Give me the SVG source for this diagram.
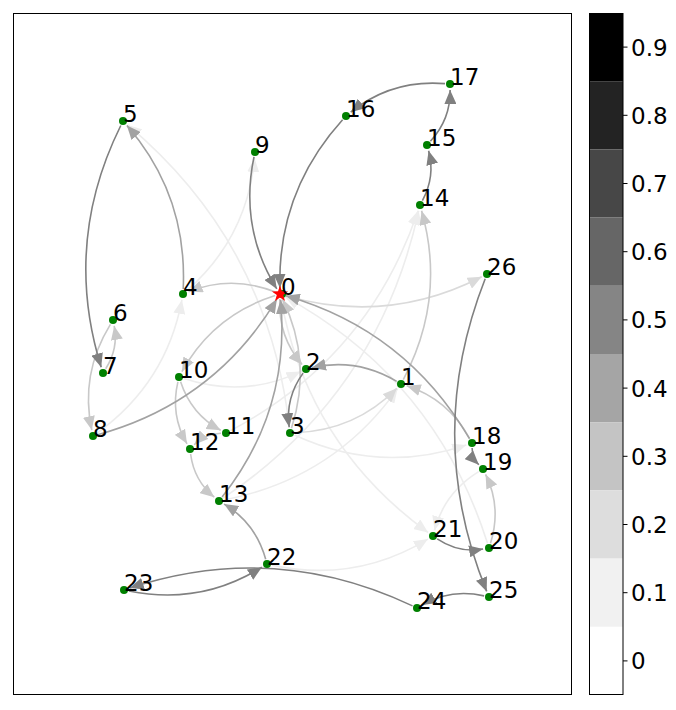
<svg xmlns="http://www.w3.org/2000/svg" width="676" height="710" viewBox="0 0 676 710">
<style>
.e{fill:none;stroke-width:1.6}
.d{stroke:#808080;marker-end:url(#md)}
.m{stroke:#a2a2a2;marker-end:url(#mm)}
.l{stroke:#c8c8c8;marker-end:url(#ml)}
.k{stroke:#dadada;marker-end:url(#mk)}
.f{stroke:#ededed;marker-end:url(#mf)}
.n{fill:#008000}
.t{font-family:"DejaVu Sans",sans-serif;font-size:23px;fill:#000}
.cb{font-family:"DejaVu Sans",sans-serif;font-size:23px;fill:#000}
</style>
<defs>
<marker id="md" viewBox="0 0 14 12" markerWidth="14" markerHeight="12" refX="14" refY="6" orient="auto" markerUnits="userSpaceOnUse"><path d="M0,0 L14,6 L0,12 z" fill="#808080"/></marker>
<marker id="mm" viewBox="0 0 14 12" markerWidth="14" markerHeight="12" refX="14" refY="6" orient="auto" markerUnits="userSpaceOnUse"><path d="M0,0 L14,6 L0,12 z" fill="#a2a2a2"/></marker>
<marker id="ml" viewBox="0 0 14 12" markerWidth="14" markerHeight="12" refX="14" refY="6" orient="auto" markerUnits="userSpaceOnUse"><path d="M0,0 L14,6 L0,12 z" fill="#c8c8c8"/></marker>
<marker id="mk" viewBox="0 0 14 12" markerWidth="14" markerHeight="12" refX="14" refY="6" orient="auto" markerUnits="userSpaceOnUse"><path d="M0,0 L14,6 L0,12 z" fill="#dadada"/></marker>
<marker id="mf" viewBox="0 0 14 12" markerWidth="14" markerHeight="12" refX="14" refY="6" orient="auto" markerUnits="userSpaceOnUse"><path d="M0,0 L14,6 L0,12 z" fill="#ededed"/></marker>
</defs>
<rect x="0" y="0" width="676" height="710" fill="#ffffff"/>
<rect x="13.5" y="13.5" width="558" height="681" fill="none" stroke="#000" stroke-width="1"/>
<g id="connectors">
<path class="e f" d="M223.1,498.2 Q378.7,393.2 418.7,210.9"/>
<path class="e f" d="M230.4,430.7 Q368.6,357.8 418.1,210.7"/>
<path class="e f" d="M97.1,433.1 Q166.4,383 181.9,299.9"/>
<path class="e f" d="M271.9,565.1 Q355.6,583.2 427.9,539.1"/>
<path class="e f" d="M223.9,500 Q333.4,478.9 397.5,388.9"/>
<path class="e f" d="M289.4,428 Q268.9,243.6 127.6,124.9"/>
<path class="e f" d="M186.8,290.7 Q247.4,237.4 254.5,158"/>
<path class="e f" d="M478.7,471.6 Q444.6,492.5 434.5,530.2"/>
<path class="e f" d="M280.9,298.9 Q308.1,445.6 428.1,532.5"/>
<path class="e f" d="M487.5,543.2 Q435.3,379.2 285.3,296.9"/>
<path class="e f" d="M294.5,435.1 Q379,474.4 466.3,444.9"/>
<path class="e f" d="M183.8,378.6 Q244.1,398.4 300.6,371.6"/>
<path class="e k" d="M284.8,295.4 Q387.5,325.4 481.7,276.8"/>
<path class="e k" d="M295,432.8 Q355.3,430.7 396.8,388.3"/>
<path class="e l" d="M403.3,379.6 Q446.3,298.3 421.6,210.8"/>
<path class="e l" d="M275.2,295.5 Q212.9,315.3 181.9,371.7"/>
<path class="e l" d="M275.4,292.1 Q231.5,274.6 188.6,291.8"/>
<path class="e l" d="M279.8,299 Q278,336.7 302.1,364.5"/>
<path class="e l" d="M291.5,428.2 Q312.8,361.5 282.6,299.4"/>
<path class="e l" d="M190.6,454 Q194.1,480.8 214.3,497.2"/>
<path class="e l" d="M177.9,381.9 Q170.1,415.2 187,443.8"/>
<path class="e l" d="M180.6,381.7 Q191.3,414.4 220.7,430.2"/>
<path class="e l" d="M221,433.2 Q204.8,433.8 194.2,444.7"/>
<path class="e l" d="M110.4,324.3 Q79.8,374 91.8,430.1"/>
<path class="e l" d="M105.7,368.8 Q118.6,348.5 114.2,325.9"/>
<path class="e l" d="M490.5,543.2 Q501.8,507.3 485.6,474.4"/>
<path class="e l" d="M469.6,438.6 Q448.3,399.3 406.7,385.8"/>
<path class="e m" d="M183.2,289 Q187.6,195.5 126.9,125.5"/>
<path class="e m" d="M97.8,434.7 Q214.9,402.4 276.9,299.1"/>
<path class="e m" d="M222.1,497.1 Q290.9,409.7 280.6,300"/>
<path class="e m" d="M265.7,559.2 Q255.6,522.9 224.1,504.1"/>
<path class="e m" d="M469.5,438.7 Q405.8,330.1 285.8,295.7"/>
<path class="e m" d="M396.7,381.4 Q356.5,357.5 311.9,367.7"/>
<path class="e d" d="M254,156.9 Q239.1,228 276.8,288.9"/>
<path class="e d" d="M342.6,119.7 Q277.4,191.8 279.9,288"/>
<path class="e d" d="M445,83.6 Q391.6,79.2 350.7,112.2"/>
<path class="e d" d="M430.4,141.3 Q450.7,119.1 450.1,90"/>
<path class="e d" d="M422.4,200.6 Q435.5,176.4 428.6,150.8"/>
<path class="e d" d="M120.8,125.5 Q62.6,243 101.2,367.3"/>
<path class="e d" d="M485.2,278.7 Q423.4,435.9 486.7,591.4"/>
<path class="e d" d="M484.1,595.9 Q450.8,588.1 422.2,605"/>
<path class="e d" d="M412.5,605.9 Q274.1,540.4 129.7,588.1"/>
<path class="e d" d="M128.9,591 Q200.7,605.6 261.9,567.2"/>
<path class="e d" d="M437.2,538.8 Q458.6,553.2 483.1,549"/>
<path class="e d" d="M303.1,373.1 Q285.2,397.8 289.2,427.1"/>
<path class="e d" d="M472.1,448 Q472.3,458.2 478.8,464.7"/>
</g>
<g id="node0"><circle class="n" cx="282" cy="294" r="4"/><polygon fill="#ff0000" points="280,285.5 282,291.2 288.1,291.4 283.2,295.1 285,301 280,297.5 275,301 276.8,295.1 271.9,291.4 278,291.2"/><text class="t" x="281" y="295">0</text></g>
<g id="node1"><circle class="n" cx="401" cy="384" r="4"/><text class="t" x="401" y="385">1</text></g>
<g id="node2"><circle class="n" cx="306" cy="369" r="4"/><text class="t" x="306" y="370">2</text></g>
<g id="node3"><circle class="n" cx="290" cy="433" r="4"/><text class="t" x="290" y="434">3</text></g>
<g id="node4"><circle class="n" cx="183" cy="294" r="4"/><text class="t" x="183" y="295">4</text></g>
<g id="node5"><circle class="n" cx="123" cy="121" r="4"/><text class="t" x="123" y="122">5</text></g>
<g id="node6"><circle class="n" cx="113" cy="320" r="4"/><text class="t" x="113" y="321">6</text></g>
<g id="node7"><circle class="n" cx="103" cy="373" r="4"/><text class="t" x="103" y="374">7</text></g>
<g id="node8"><circle class="n" cx="93" cy="436" r="4"/><text class="t" x="93" y="437">8</text></g>
<g id="node9"><circle class="n" cx="255" cy="152" r="4"/><text class="t" x="255" y="153">9</text></g>
<g id="node10"><circle class="n" cx="179" cy="377" r="4"/><text class="t" x="179" y="378">10</text></g>
<g id="node11"><circle class="n" cx="226" cy="433" r="4"/><text class="t" x="226" y="434">11</text></g>
<g id="node12"><circle class="n" cx="190" cy="449" r="4"/><text class="t" x="190" y="450">12</text></g>
<g id="node13"><circle class="n" cx="219" cy="501" r="4"/><text class="t" x="219" y="502">13</text></g>
<g id="node14"><circle class="n" cx="420" cy="205" r="4"/><text class="t" x="420" y="206">14</text></g>
<g id="node15"><circle class="n" cx="427" cy="145" r="4"/><text class="t" x="427" y="146">15</text></g>
<g id="node16"><circle class="n" cx="346" cy="116" r="4"/><text class="t" x="346" y="117">16</text></g>
<g id="node17"><circle class="n" cx="450" cy="84" r="4"/><text class="t" x="450" y="85">17</text></g>
<g id="node18"><circle class="n" cx="472" cy="443" r="4"/><text class="t" x="472" y="444">18</text></g>
<g id="node19"><circle class="n" cx="483" cy="469" r="4"/><text class="t" x="483" y="470">19</text></g>
<g id="node20"><circle class="n" cx="489" cy="548" r="4"/><text class="t" x="489" y="549">20</text></g>
<g id="node21"><circle class="n" cx="433" cy="536" r="4"/><text class="t" x="433" y="537">21</text></g>
<g id="node22"><circle class="n" cx="267" cy="564" r="4"/><text class="t" x="267" y="565">22</text></g>
<g id="node23"><circle class="n" cx="124" cy="590" r="4"/><text class="t" x="124" y="591">23</text></g>
<g id="node24"><circle class="n" cx="417" cy="608" r="4"/><text class="t" x="417" y="609">24</text></g>
<g id="node25"><circle class="n" cx="489" cy="597" r="4"/><text class="t" x="489" y="598">25</text></g>
<g id="node26"><circle class="n" cx="487" cy="274" r="4"/><text class="t" x="487" y="275">26</text></g>
<g id="colorbar">
<rect x="589" y="13" width="34" height="68.2" fill="#000000"/>
<rect x="589" y="81.2" width="34" height="68.2" fill="#232323"/>
<rect x="589" y="149.4" width="34" height="68.2" fill="#474747"/>
<rect x="589" y="217.6" width="34" height="68.2" fill="#666666"/>
<rect x="589" y="285.8" width="34" height="68.2" fill="#858585"/>
<rect x="589" y="354" width="34" height="68.2" fill="#a5a5a5"/>
<rect x="589" y="422.2" width="34" height="68.2" fill="#c4c4c4"/>
<rect x="589" y="490.4" width="34" height="68.2" fill="#dddddd"/>
<rect x="589" y="558.6" width="34" height="68.2" fill="#f1f1f1"/>
<rect x="589" y="626.8" width="34" height="68.2" fill="#ffffff"/>
<rect x="589.5" y="13.5" width="33.5" height="681" fill="none" stroke="#000" stroke-width="1"/>
<g stroke="#000" stroke-width="1">
<line x1="623" y1="47.1" x2="627.5" y2="47.1"/>
<line x1="623" y1="115.3" x2="627.5" y2="115.3"/>
<line x1="623" y1="183.5" x2="627.5" y2="183.5"/>
<line x1="623" y1="251.7" x2="627.5" y2="251.7"/>
<line x1="623" y1="319.9" x2="627.5" y2="319.9"/>
<line x1="623" y1="388.1" x2="627.5" y2="388.1"/>
<line x1="623" y1="456.3" x2="627.5" y2="456.3"/>
<line x1="623" y1="524.5" x2="627.5" y2="524.5"/>
<line x1="623" y1="592.7" x2="627.5" y2="592.7"/>
<line x1="623" y1="660.9" x2="627.5" y2="660.9"/>
</g>
<text class="cb" x="631" y="55.5">0.9</text>
<text class="cb" x="631" y="123.7">0.8</text>
<text class="cb" x="631" y="191.9">0.7</text>
<text class="cb" x="631" y="260.1">0.6</text>
<text class="cb" x="631" y="328.3">0.5</text>
<text class="cb" x="631" y="396.5">0.4</text>
<text class="cb" x="631" y="464.7">0.3</text>
<text class="cb" x="631" y="532.9">0.2</text>
<text class="cb" x="631" y="601.1">0.1</text>
<text class="cb" x="631" y="669.3">0</text>
</g>
</svg>
